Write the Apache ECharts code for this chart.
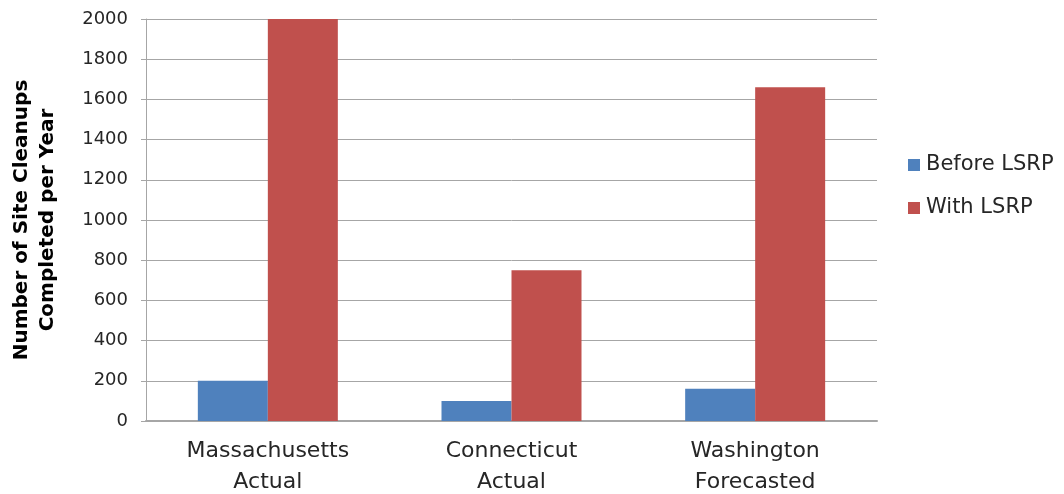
<!DOCTYPE html>
<html>
<head>
<meta charset="utf-8">
<script src="https://cdn.jsdelivr.net/npm/echarts@6/dist/echarts.min.js"></script>
<style>
  html, body { margin: 0; padding: 0; background: #fff; }
  #chart { width: 1064px; height: 494px; }
</style>
</head>
<body>
<div id="chart"></div>
<script>
// Site cleanups completed per year, before and with the LSRP program
const categories = ['Massachusetts\nActual', 'Connecticut\nActual', 'Washington\nForecasted'];
const beforeLSRP = [200, 100, 160];
const withLSRP = [2000, 750, 1660];
const seriesNames = ['Before LSRP', 'With LSRP'];

const font = 'DejaVu Sans';
const textColor = '#262626';
const lineColor = '#a6a6a6';

const chart = echarts.init(document.getElementById('chart'), null, { renderer: 'canvas' });
chart.setOption({
  animation: false,
  textStyle: { fontFamily: font },
  grid: { left: 146, right: 187, top: 19, bottom: 73, containLabel: false, outerBoundsMode: 'none' },
  legend: {
    orient: 'vertical',
    left: 903,
    top: 149,
    itemWidth: 12,
    itemHeight: 12,
    itemGap: 21,
    icon: 'rect',
    data: seriesNames,
    textStyle: { fontFamily: font, fontSize: 21, color: textColor, lineHeight: 22, padding: [0, 0, 0, 1] }
  },
  xAxis: {
    type: 'category',
    data: categories,
    axisLine: { lineStyle: { color: lineColor, width: 2 } },
    axisTick: { show: false },
    axisLabel: { fontFamily: font, fontSize: 22, color: textColor, lineHeight: 31, margin: 15 }
  },
  yAxis: {
    type: 'value',
    min: 0,
    max: 2000,
    interval: 200,
    name: 'Number of Site Cleanups\nCompleted per Year',
    nameLocation: 'middle',
    nameGap: 85,
    nameTextStyle: { fontFamily: font, fontSize: 20, fontWeight: 'bold', color: '#000', lineHeight: 26 },
    axisLine: { show: true, lineStyle: { color: lineColor, width: 1 } },
    axisTick: { show: true, length: 5, lineStyle: { color: lineColor } },
    axisLabel: { fontFamily: font, fontSize: 18, color: textColor, margin: 18, formatter: v => String(v) },
    splitLine: { lineStyle: { color: lineColor, width: 1 } }
  },
  series: [
    {
      name: seriesNames[0],
      type: 'bar',
      data: beforeLSRP,
      barWidth: 70,
      barGap: '0%',
      itemStyle: { color: '#4f81bd' }
    },
    {
      name: seriesNames[1],
      type: 'bar',
      data: withLSRP,
      barWidth: 70,
      barGap: '0%',
      itemStyle: { color: '#c0504d' }
    }
  ]
});
</script>
</body>
</html>
